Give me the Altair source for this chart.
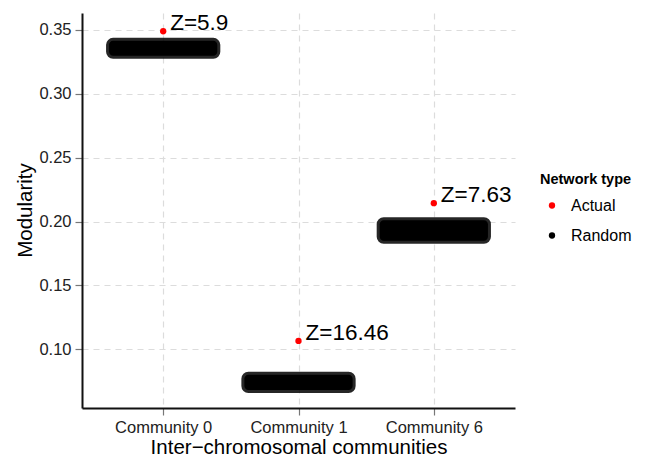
import json
import altair as alt
import pandas as pd

# ---- data ----
communities = ["Community 0", "Community 1", "Community 6"]
actual_modularity = [0.3490, 0.1065, 0.2144]
z_scores = ["5.9", "16.46", "7.63"]
# extent (min / max of the bulk) and centre of the random-network modularity clouds
random_low = [0.3298, 0.0680, 0.1850]
random_high = [0.3415, 0.0800, 0.2010]
random_mean = [0.3357, 0.0741, 0.1931]
network_types = ["Actual", "Random"]
type_colors = ["#ff0000", "#000000"]
y_ticks = [0.10, 0.15, 0.20, 0.25, 0.30, 0.35]

JITTER = 0.4
FONT = "Liberation Sans"
idx = list(range(len(communities)))

cloud_df = pd.DataFrame({"community": communities, "idx": idx,
                         "low": random_low, "high": random_high})
points_df = pd.DataFrame({
    "community": communities * 2,
    "idx": idx * 2,
    "modularity": actual_modularity + random_mean,
    "type": ["Actual"] * len(communities) + ["Random"] * len(communities),
})
label_df = pd.DataFrame({"community": communities, "idx": idx,
                         "modularity": actual_modularity,
                         "label": ["Z=" + z for z in z_scores]})

x_scale = alt.Scale(domain=[-0.6, len(communities) - 1 + 0.6], nice=False, zero=False)
y_scale = alt.Scale(domain=[0.054, 0.3633], nice=False, zero=False)

label_expr = json.dumps(communities) + "[datum.value]"
X_TITLE = "Inter\u2212chromosomal communities"
Y_TITLE = "Modularity"

x_axis = alt.Axis(values=idx, labelExpr=label_expr, title=X_TITLE,
                  titleY=45, titleBaseline="alphabetic")
y_axis = alt.Axis(values=y_ticks, format=".2f", title=Y_TITLE,
                  titleX=-57, titleY=197, titleAngle=-90,
                  titleBaseline="middle", titleAlign="center")

cloud = alt.Chart(cloud_df).transform_calculate(
    xlo=f"datum.idx - {JITTER}", xhi=f"datum.idx + {JITTER}"
).mark_rect(
    fill="#000000", stroke="#000000", strokeOpacity=0.85, strokeWidth=6,
    strokeJoin="round", cornerRadius=4
).encode(
    x=alt.X("xlo:Q", scale=x_scale, axis=x_axis, title=X_TITLE),
    x2="xhi:Q",
    y=alt.Y("low:Q", scale=y_scale, axis=y_axis, title=Y_TITLE),
    y2="high:Q",
)

points = alt.Chart(points_df).mark_circle(size=40, opacity=1).encode(
    x=alt.X("idx:Q", scale=x_scale, axis=x_axis, title=X_TITLE),
    y=alt.Y("modularity:Q", scale=y_scale, axis=y_axis, title=Y_TITLE),
    color=alt.Color("type:N",
                    scale=alt.Scale(domain=network_types, range=type_colors),
                    legend=alt.Legend(title="Network type", orient="none",
                                      legendX=458, legendY=160,
                                      symbolType="circle", symbolSize=40,
                                      symbolOffset=4, labelOffset=11,
                                      rowPadding=14, titlePadding=10,
                                      titleFontSize=14.5, titleFontWeight="bold",
                                      labelFontSize=16, titleFont=FONT,
                                      labelFont=FONT, titleColor="#000",
                                      labelColor="#000")),
    order=alt.Order("type:N", sort="descending"),
)

labels = alt.Chart(label_df).mark_text(
    align="left", baseline="alphabetic", dx=7, dy=-1, fontSize=22.5,
    font=FONT, color="#000"
).encode(
    x=alt.X("idx:Q", scale=x_scale, axis=x_axis, title=X_TITLE),
    y=alt.Y("modularity:Q", scale=y_scale, axis=y_axis, title=Y_TITLE),
    text="label:N",
)

chart = alt.layer(cloud, points, labels).properties(
    width=433, height=395,
    autosize=alt.AutoSizeParams(type="none"),
    padding={"left": 74, "top": 5, "right": 132, "bottom": 48},
).configure_view(stroke=None).configure_axis(
    domainColor="#111", domainWidth=2,
    tickColor="#777", tickSize=7, tickWidth=1.2,
    gridColor="#dcdcdc", gridDash=[6, 5], gridWidth=1.2,
    labelFont=FONT, labelFontSize=16.5, labelColor="#222",
    titleFont=FONT, titleFontSize=20.5, titleFontWeight="normal", titleColor="#000",
    labelPadding=4,
)

chart.save("out.html", embed_options={"renderer": "svg", "actions": False})
